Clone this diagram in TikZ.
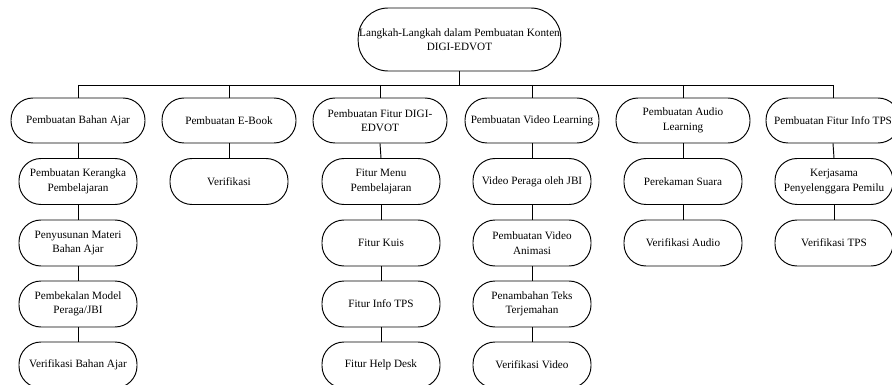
\documentclass[tikz,border=0pt]{standalone}
\usepackage{fontspec}
\setmainfont{Liberation Serif}
\begin{document}
\begin{tikzpicture}[x=1pt,y=-1pt,
  box/.style={draw, line width=0.95pt, rounded corners=22pt, align=center,
    font=\fontsize{11.2}{14.5}\selectfont, inner sep=1pt},
  topbox/.style={box, minimum width=197pt, minimum height=63pt, rounded corners=30pt},
  lone/.style={box, minimum width=134pt, minimum height=45pt},
  subbox/.style={box, minimum width=118pt, minimum height=46pt},
  link/.style={line width=0.95pt}]
\useasboundingbox (0,0) rectangle (892,385);

\node[topbox] (top) at (459.5,39.5) {Langkah-Langkah dalam Pembuatan Konten\\DIGI-EDVOT};
\coordinate (busL) at (78,85);
\coordinate (busR) at (833,85);

% level 1
\node[lone] (a0) at (78,120.5) {Pembuatan Bahan Ajar};
\node[lone] (b0) at (229,120.5) {Pembuatan E-Book};
\node[lone] (c0) at (380,120.5) {Pembuatan Fitur DIGI-\\EDVOT};
\node[lone] (d0) at (532,120.5) {Pembuatan Video Learning};
\node[lone] (e0) at (683,120.5) {Pembuatan Audio\\Learning};
\node[lone] (f0) at (833,120.5) {Pembuatan Fitur Info TPS};

% column 1
\node[subbox] (a1) at (78,181.5) {Pembuatan Kerangka\\Pembelajaran};
\node[subbox] (a2) at (78,243) {Penyusunan Materi\\Bahan Ajar};
\node[subbox] (a3) at (78,304) {Pembekalan Model\\Peraga/JBI};
\node[subbox] (a4) at (78,365) {Verifikasi Bahan Ajar};
% column 2
\node[subbox] (b1) at (229,181.5) {Verifikasi};
% column 3
\node[subbox] (c1) at (381,181.5) {Fitur Menu\\Pembelajaran};
\node[subbox] (c2) at (381,243) {Fitur Kuis};
\node[subbox] (c3) at (381,304) {Fitur Info TPS};
\node[subbox] (c4) at (381,365) {Fitur Help Desk};
% column 4
\node[subbox] (d1) at (532,181.5) {Video Peraga oleh JBI};
\node[subbox] (d2) at (532,243) {Pembuatan Video\\Animasi};
\node[subbox] (d3) at (532,304) {Penambahan Teks\\Terjemahan};
\node[subbox] (d4) at (532,365) {Verifikasi Video};
% column 5
\node[subbox] (e1) at (683,181.5) {Perekaman Suara};
\node[subbox] (e2) at (683,243) {Verifikasi Audio};
% column 6
\node[subbox] (f1) at (834,181.5) {Kerjasama\\Penyelenggara Pemilu};
\node[subbox] (f2) at (834,243) {Verifikasi TPS};

% connectors
\draw[link] (top.south) -- (top.south |- busL);
\draw[link] (busL) -- (busR);
\foreach \n in {a0,b0,c0,d0,e0,f0}
  \draw[link] (\n.north |- busL) -- (\n.north);
\foreach \u/\v in {a0/a1,a1/a2,a2/a3,a3/a4,b0/b1,c0/c1,c1/c2,c2/c3,c3/c4,
                   d0/d1,d1/d2,d2/d3,d3/d4,e0/e1,e1/e2,f0/f1,f1/f2}
  \draw[link] (\u.south) -- (\v.north);
\end{tikzpicture}
\end{document}
